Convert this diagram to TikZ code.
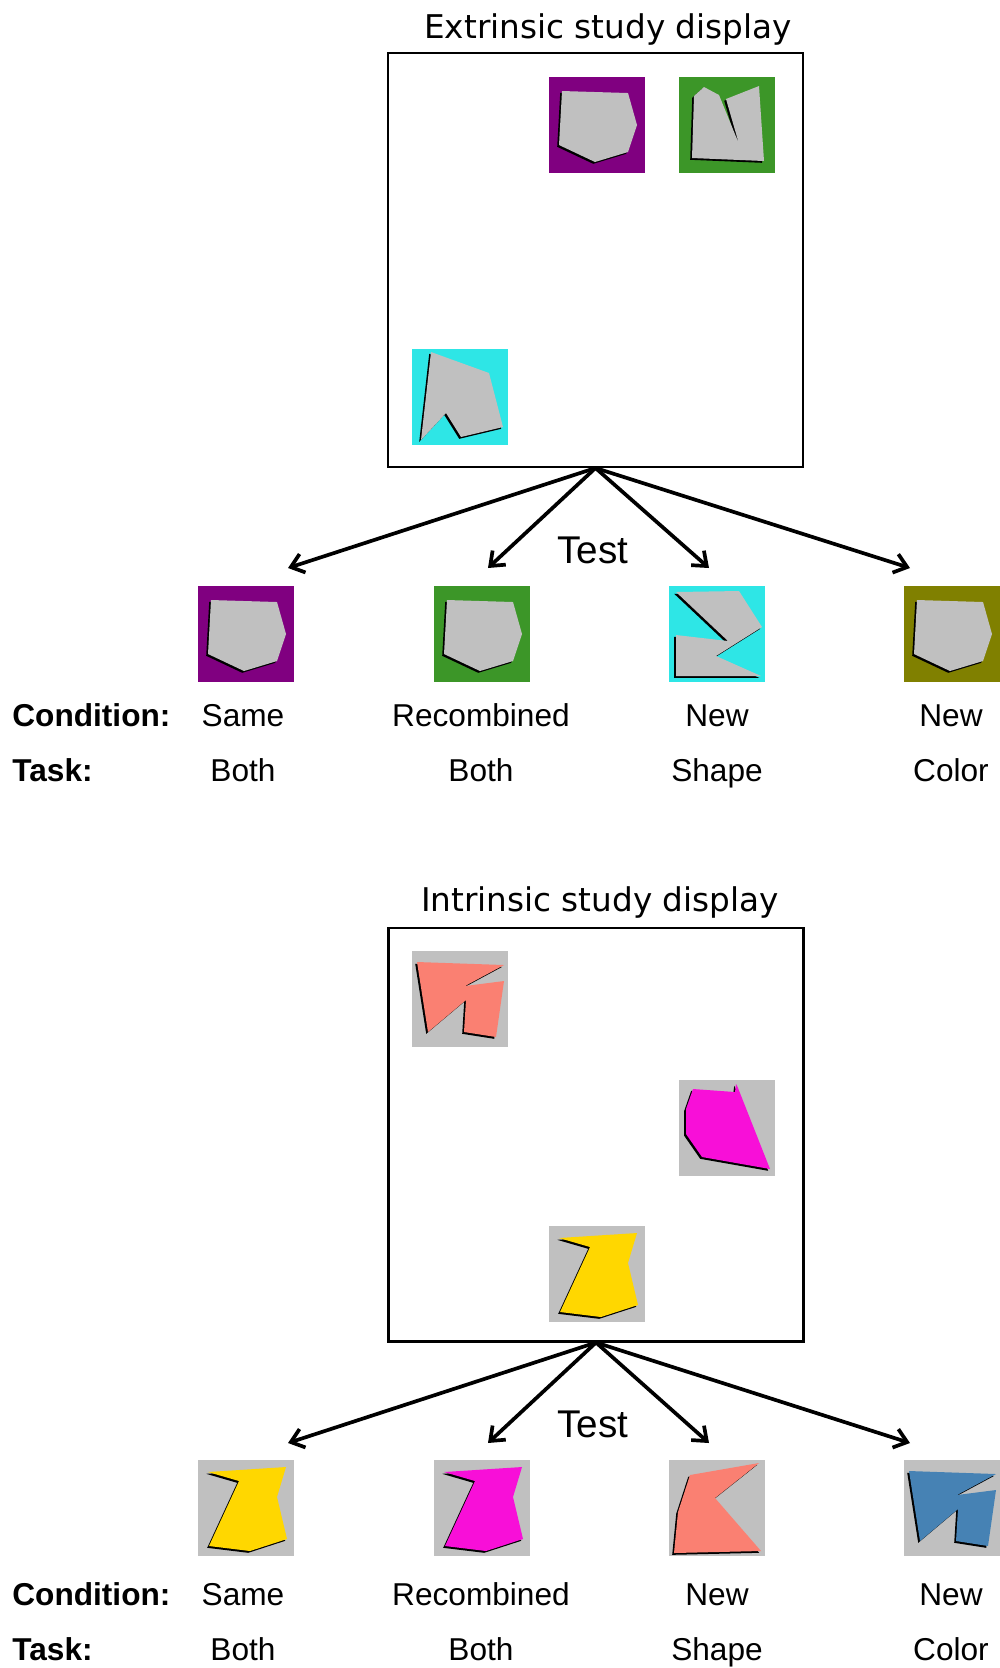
\documentclass[tikz,border=0pt]{standalone}
\usepackage{fontspec}
\setmainfont{Liberation Sans}
\newfontfamily\titlefont{DejaVu Sans}
\usetikzlibrary{arrows.meta}

\definecolor{tpurple}{RGB}{128,0,128}
\definecolor{tgreen}{RGB}{60,150,40}
\definecolor{tcyan}{RGB}{46,230,230}
\definecolor{tolive}{RGB}{128,128,0}
\definecolor{tgray}{RGB}{192,192,192}
\definecolor{tsalmon}{RGB}{250,128,114}
\definecolor{tmagenta}{RGB}{248,15,216}
\definecolor{tgold}{RGB}{255,215,0}
\definecolor{tsteel}{RGB}{70,130,180}

% outlines of the shapes (tile coordinates, 96 x 96)
\def\pentpath{(13,14) -- (79,16) -- (88,48) -- (79,75) -- (46,85) -- (10,68) -- cycle}
\def\notchpath{(15,19) -- (25,10) -- (40,18) -- (60,67) -- (47,22) -- (80,9) -- (85,84) -- (13,81) -- cycle}
\def\wedgepath{(19,3) -- (77,24) -- (91,78) -- (49,88) -- (34,64) -- (9,91) -- cycle}
\def\zigpath{(7,6) -- (70,5) -- (93,41) -- (47,70) -- (92,90) -- (7,90) -- (7,49) -- (59,55) -- cycle}
\def\flagpath{(5,11) -- (92,14) -- (53,35) -- (92,30) -- (84,86) -- (52,81) -- (54,49) -- (16,81) -- cycle}
\def\gempath{(14,9) -- (56,12) -- (57,4) -- (59,8) -- (91,89) -- (23,77) -- (7,54) -- (7,29) -- cycle}
\def\cuppath{(10,12) -- (41,21) -- (11,86) -- (52,91) -- (89,79) -- (79,37) -- (88,7) -- cycle}
\def\kitepath{(21,15) -- (90,3) -- (46,38) -- (92,91) -- (5,93) -- (9,52) -- cycle}

% shape with a dark shadow on a tile: node, colour, outline
\newcommand{\tileshape}[3]{%
  \begin{scope}[shift={(#1.north west)}]
    \fill[black, shift={(-1.8,1.8)}] #3;
    \fill[#2] #3;
  \end{scope}}

\begin{document}
\begin{tikzpicture}[x=0.02cm, y=-0.02cm,
    tile/.style={minimum size=1.92cm, inner sep=0pt, outer sep=0pt},
    studybox/.style={draw, line width=1.2pt, minimum width=8.3cm, minimum height=8.28cm, inner sep=0pt},
    title/.style={font=\titlefont\fontsize{18.6}{20}\selectfont, anchor=base, inner sep=0pt},
    testlabel/.style={font=\fontsize{22}{24}\selectfont, anchor=base, inner sep=0pt},
    rowhead/.style={font=\bfseries\fontsize{18}{20}\selectfont, anchor=base west, inner sep=0pt},
    rowval/.style={font=\fontsize{18}{20}\selectfont, anchor=base, inner sep=0pt},
    testarrow/.style={line width=2.1pt, -{Straight Barb[length=7pt,width=11pt]}}]

    \useasboundingbox (0,0) rectangle (1000,1668);

    % extrinsic study display
    \node[title] (titleE) at (608,38) {Extrinsic study display};
    \node[studybox] (boxE) at (595.5,260) {};
    \node[tile, fill=tpurple] (sE1) at (597,125) {};
    \node[tile, fill=tgreen] (sE2) at (727,125) {};
    \node[tile, fill=tcyan] (sE3) at (460,397) {};
    \tileshape{sE1}{tgray}{\pentpath}
    \tileshape{sE2}{tgray}{\notchpath}
    \tileshape{sE3}{tgray}{\wedgepath}

    % test items (extrinsic)
    \node[tile, fill=tpurple] (tE1) at (246,634) {};
    \node[tile, fill=tgreen] (tE2) at (482,634) {};
    \node[tile, fill=tcyan] (tE3) at (717,634) {};
    \node[tile, fill=tolive] (tE4) at (952,634) {};
    \tileshape{tE1}{tgray}{\pentpath}
    \tileshape{tE2}{tgray}{\pentpath}
    \tileshape{tE3}{tgray}{\zigpath}
    \tileshape{tE4}{tgray}{\pentpath}

    \foreach \n/\x in {1/288, 2/488, 3/709, 4/910}
        \coordinate (aE\n) at (\x,568);
    \foreach \n in {1,...,4}
        \draw[testarrow] (boxE.south) -- (aE\n);
    \node[testlabel] (testE) at (593,563) {Test};

    \node[rowhead] (condE) at (12,726) {Condition:};
    \node[rowhead] (taskE) at (12,781) {Task:};
    \foreach \x/\c/\t [count=\i] in {243/Same/Both, 481/Recombined/Both, 717/New/Shape, 951/New/Color} {
        \node[rowval] (cE\i) at (\x,726) {\c};
        \node[rowval] (kE\i) at (\x,781) {\t};
    }

    % intrinsic study display
    \node[title] (titleI) at (600,911) {Intrinsic study display};
    \node[studybox] (boxI) at (596,1134.5) {};
    \node[tile, fill=tgray] (sI1) at (460,999) {};
    \node[tile, fill=tgray] (sI2) at (727,1128) {};
    \node[tile, fill=tgray] (sI3) at (597,1274) {};
    \tileshape{sI1}{tsalmon}{\flagpath}
    \tileshape{sI2}{tmagenta}{\gempath}
    \tileshape{sI3}{tgold}{\cuppath}

    % test items (intrinsic)
    \node[tile, fill=tgray] (tI1) at (246,1508) {};
    \node[tile, fill=tgray] (tI2) at (482,1508) {};
    \node[tile, fill=tgray] (tI3) at (717,1508) {};
    \node[tile, fill=tgray] (tI4) at (952,1508) {};
    \tileshape{tI1}{tgold}{\cuppath}
    \tileshape{tI2}{tmagenta}{\cuppath}
    \tileshape{tI3}{tsalmon}{\kitepath}
    \tileshape{tI4}{tsteel}{\flagpath}

    \foreach \n/\x in {1/288, 2/488, 3/709, 4/910}
        \coordinate (aI\n) at (\x,1443);
    \foreach \n in {1,...,4}
        \draw[testarrow] (boxI.south) -- (aI\n);
    \node[testlabel] (testI) at (593,1437) {Test};

    \node[rowhead] (condI) at (12,1605) {Condition:};
    \node[rowhead] (taskI) at (12,1660) {Task:};
    \foreach \x/\c/\t [count=\i] in {243/Same/Both, 481/Recombined/Both, 717/New/Shape, 951/New/Color} {
        \node[rowval] (cI\i) at (\x,1605) {\c};
        \node[rowval] (kI\i) at (\x,1660) {\t};
    }

\end{tikzpicture}
\end{document}
